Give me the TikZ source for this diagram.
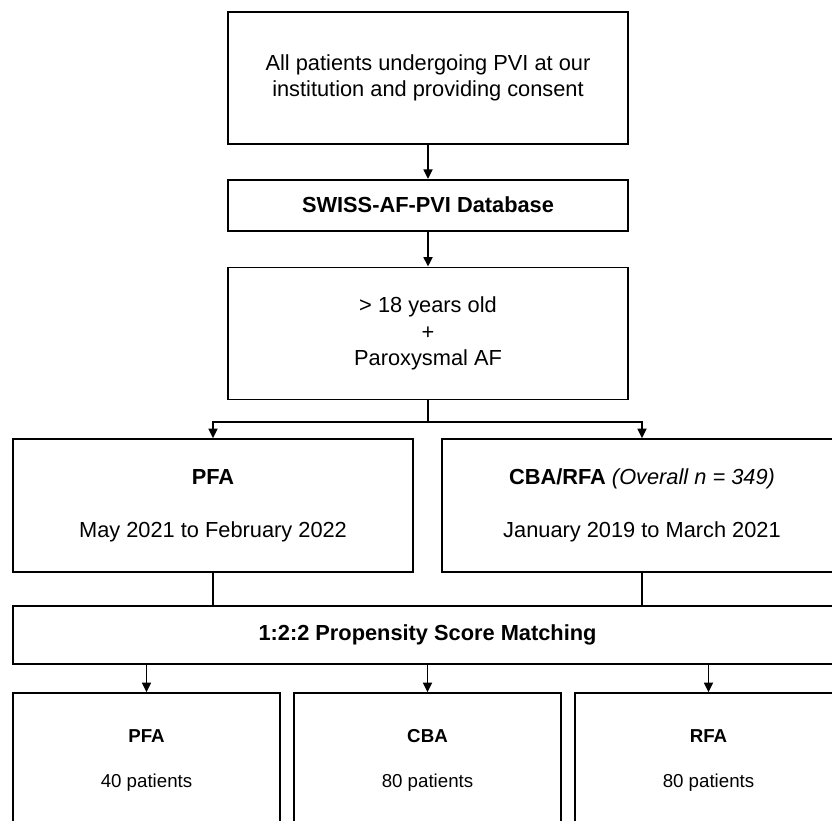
\documentclass[tikz,border=0pt]{standalone}
\usepackage{fontspec}
\setmainfont{Liberation Sans}
\usetikzlibrary{arrows.meta, positioning}

\begin{document}
\begin{tikzpicture}[
    x=1pt, y=-1pt,
    line width=1.7pt,
    every node/.style={draw, rectangle, align=center, inner sep=0pt,
        font=\fontsize{21.8}{26.7}\selectfont},
    armbox/.style={minimum width=267pt, minimum height=135pt,
        font=\fontsize{18.7}{22.5}\selectfont},
    arr/.style={-{Triangle[length=9.5pt, width=9pt]}}
    ]
    \clip (0,0) rectangle (832,820);

    % Nodes
    \node (allPatients) [minimum width=400pt, minimum height=132pt] at (428,78)
        {All patients undergoing PVI at our\\institution and providing consent};
    \node (database) [below=34pt of allPatients, minimum width=400pt, minimum height=51pt]
        {\textbf{SWISS-AF-PVI Database}};
    \node (criteria) [below=35pt of database, minimum width=400pt, minimum height=132pt]
        {> 18 years old\\+\\Paroxysmal AF};
    \node (pfaCohort) [minimum width=400pt, minimum height=133pt] at (213,505.5)
        {\textbf{PFA}\\[26.7pt]May 2021 to February 2022};
    \node (cbaRfaCohort) [minimum width=400pt, minimum height=133pt] at (642,505.5)
        {\textbf{CBA/RFA} \textit{(Overall n = 349)}\\[26.7pt]January 2019 to March 2021};
    \node (matching) [minimum width=829pt, minimum height=58pt] at (427.5,635)
        {\textbf{1:2:2 Propensity Score Matching}};
    \node (pfaArm) [armbox] at (146.5,760.5) {\textbf{PFA}\\[22.5pt]40 patients};
    \node (cbaArm) [armbox] at (427.5,760.5) {\textbf{CBA}\\[22.5pt]80 patients};
    \node (rfaArm) [armbox] at (708.5,760.5) {\textbf{RFA}\\[22.5pt]80 patients};

    % Arrows
    \draw[arr] (allPatients) -- (database);
    \draw[arr] (database) -- (criteria);
    \draw[arr] (criteria.south) -- ++(0,22) -| (pfaCohort.north);
    \draw[arr] (criteria.south) -- ++(0,22) -| (cbaRfaCohort.north);
    \draw (pfaCohort.south) -- (pfaCohort.south |- matching.north);
    \draw (cbaRfaCohort.south) -- (cbaRfaCohort.south |- matching.north);
    \draw[arr] (matching.south -| pfaArm.north) -- (pfaArm.north);
    \draw[arr] (matching.south -| cbaArm.north) -- (cbaArm.north);
    \draw[arr] (matching.south -| rfaArm.north) -- (rfaArm.north);

\end{tikzpicture}
\end{document}
